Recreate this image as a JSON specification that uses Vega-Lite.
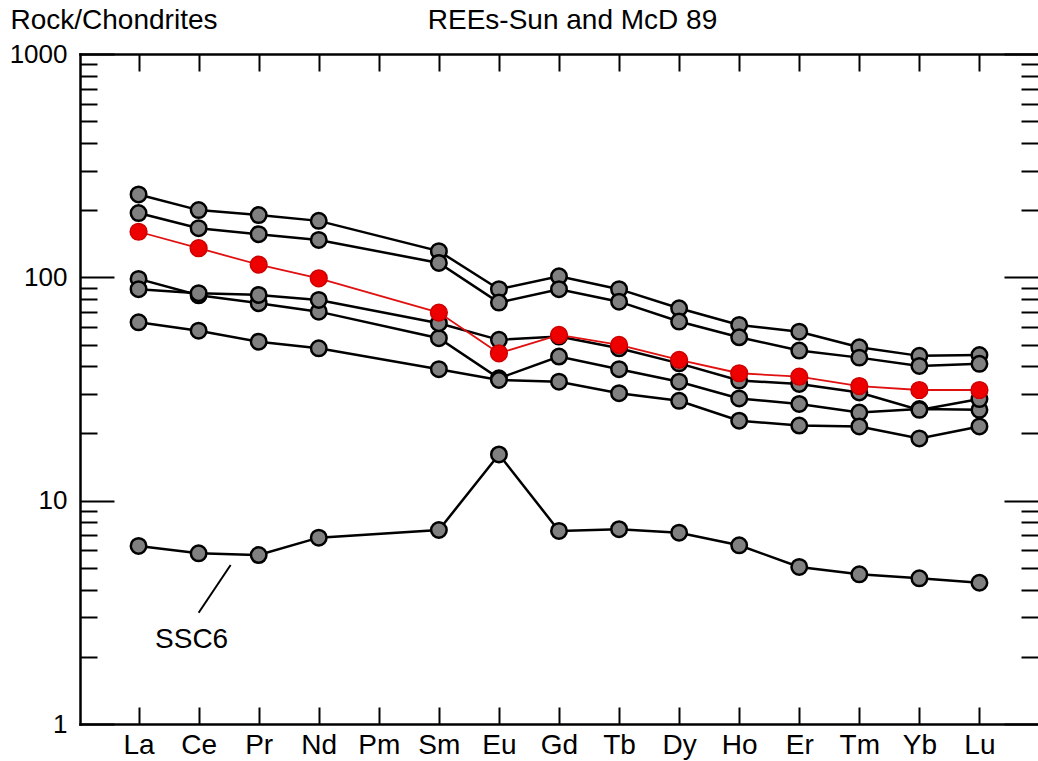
{
  "$schema": "https://vega.github.io/schema/vega-lite/v6.json",
  "width": 958,
  "height": 670,
  "autosize": {"type": "none"},
  "padding": {"left": 80, "top": 54, "right": 0, "bottom": 37},
  "background": "white",
  "config": {
    "view": {"stroke": null},
    "font": "Liberation Sans",
    "axis": {
      "grid": false,
      "domainColor": "black",
      "domainWidth": 2.5,
      "domainCap": "square",
      "tickColor": "black",
      "tickWidth": 2,
      "labelColor": "black",
      "labelFont": "Liberation Sans",
      "labelFontSize": 28,
      "titleFont": "Liberation Sans",
      "titleFontSize": 28,
      "titleFontWeight": "normal",
      "titleColor": "black"
    }
  },
  "data": {
    "values": [
      {"series": "S1", "element": "La", "value": 235},
      {"series": "S1", "element": "Ce", "value": 200},
      {"series": "S1", "element": "Pr", "value": 190},
      {"series": "S1", "element": "Nd", "value": 179},
      {"series": "S1", "element": "Sm", "value": 131},
      {"series": "S1", "element": "Eu", "value": 88.5},
      {"series": "S1", "element": "Gd", "value": 101},
      {"series": "S1", "element": "Tb", "value": 88.5},
      {"series": "S1", "element": "Dy", "value": 72.7},
      {"series": "S1", "element": "Ho", "value": 61.2},
      {"series": "S1", "element": "Er", "value": 57.1},
      {"series": "S1", "element": "Tm", "value": 48.6},
      {"series": "S1", "element": "Yb", "value": 44.5},
      {"series": "S1", "element": "Lu", "value": 44.9},
      {"series": "S2", "element": "La", "value": 194},
      {"series": "S2", "element": "Ce", "value": 166},
      {"series": "S2", "element": "Pr", "value": 156},
      {"series": "S2", "element": "Nd", "value": 147},
      {"series": "S2", "element": "Sm", "value": 116},
      {"series": "S2", "element": "Eu", "value": 77.1},
      {"series": "S2", "element": "Gd", "value": 88.5},
      {"series": "S2", "element": "Tb", "value": 77.8},
      {"series": "S2", "element": "Dy", "value": 63.4},
      {"series": "S2", "element": "Ho", "value": 53.9},
      {"series": "S2", "element": "Er", "value": 47.0},
      {"series": "S2", "element": "Tm", "value": 43.7},
      {"series": "S2", "element": "Yb", "value": 40.1},
      {"series": "S2", "element": "Lu", "value": 41.0},
      {"series": "S3", "element": "La", "value": 98.4},
      {"series": "S3", "element": "Ce", "value": 83.1},
      {"series": "S3", "element": "Pr", "value": 76.6},
      {"series": "S3", "element": "Nd", "value": 70.2},
      {"series": "S3", "element": "Sm", "value": 53.4},
      {"series": "S3", "element": "Eu", "value": 35.3},
      {"series": "S3", "element": "Gd", "value": 44.2},
      {"series": "S3", "element": "Tb", "value": 38.8},
      {"series": "S3", "element": "Dy", "value": 34.1},
      {"series": "S3", "element": "Ho", "value": 28.7},
      {"series": "S3", "element": "Er", "value": 27.1},
      {"series": "S3", "element": "Tm", "value": 24.8},
      {"series": "S3", "element": "Yb", "value": 25.7},
      {"series": "S3", "element": "Lu", "value": 25.5},
      {"series": "S4", "element": "La", "value": 88.5},
      {"series": "S4", "element": "Ce", "value": 84.9},
      {"series": "S4", "element": "Pr", "value": 83.4},
      {"series": "S4", "element": "Nd", "value": 79.2},
      {"series": "S4", "element": "Sm", "value": 62.3},
      {"series": "S4", "element": "Eu", "value": 52.5},
      {"series": "S4", "element": "Gd", "value": 54.3},
      {"series": "S4", "element": "Tb", "value": 48.1},
      {"series": "S4", "element": "Dy", "value": 41.2},
      {"series": "S4", "element": "Ho", "value": 34.5},
      {"series": "S4", "element": "Er", "value": 33.3},
      {"series": "S4", "element": "Tm", "value": 30.5},
      {"series": "S4", "element": "Yb", "value": 25.5},
      {"series": "S4", "element": "Lu", "value": 28.5},
      {"series": "S5", "element": "La", "value": 62.9},
      {"series": "S5", "element": "Ce", "value": 57.7},
      {"series": "S5", "element": "Pr", "value": 51.5},
      {"series": "S5", "element": "Nd", "value": 48.1},
      {"series": "S5", "element": "Sm", "value": 38.8},
      {"series": "S5", "element": "Eu", "value": 34.7},
      {"series": "S5", "element": "Gd", "value": 34.1},
      {"series": "S5", "element": "Tb", "value": 30.3},
      {"series": "S5", "element": "Dy", "value": 28.0},
      {"series": "S5", "element": "Ho", "value": 22.8},
      {"series": "S5", "element": "Er", "value": 21.7},
      {"series": "S5", "element": "Tm", "value": 21.5},
      {"series": "S5", "element": "Yb", "value": 19.0},
      {"series": "S5", "element": "Lu", "value": 21.5},
      {"series": "SSC6", "element": "La", "value": 6.27},
      {"series": "SSC6", "element": "Ce", "value": 5.81},
      {"series": "SSC6", "element": "Pr", "value": 5.71},
      {"series": "SSC6", "element": "Nd", "value": 6.83},
      {"series": "SSC6", "element": "Sm", "value": 7.39},
      {"series": "SSC6", "element": "Eu", "value": 16.1},
      {"series": "SSC6", "element": "Gd", "value": 7.32},
      {"series": "SSC6", "element": "Tb", "value": 7.45},
      {"series": "SSC6", "element": "Dy", "value": 7.19},
      {"series": "SSC6", "element": "Ho", "value": 6.31},
      {"series": "SSC6", "element": "Er", "value": 5.05},
      {"series": "SSC6", "element": "Tm", "value": 4.68},
      {"series": "SSC6", "element": "Yb", "value": 4.49},
      {"series": "SSC6", "element": "Lu", "value": 4.29},
      {"series": "Red", "element": "La", "value": 160},
      {"series": "Red", "element": "Ce", "value": 135},
      {"series": "Red", "element": "Pr", "value": 114},
      {"series": "Red", "element": "Nd", "value": 99},
      {"series": "Red", "element": "Sm", "value": 69.5},
      {"series": "Red", "element": "Eu", "value": 45.7},
      {"series": "Red", "element": "Gd", "value": 55.2},
      {"series": "Red", "element": "Tb", "value": 49.8},
      {"series": "Red", "element": "Dy", "value": 42.7},
      {"series": "Red", "element": "Ho", "value": 37.2},
      {"series": "Red", "element": "Er", "value": 35.9},
      {"series": "Red", "element": "Tm", "value": 32.6},
      {"series": "Red", "element": "Yb", "value": 31.3},
      {"series": "Red", "element": "Lu", "value": 31.3}
    ]
  },
  "layer": [
    {
      "transform": [{"filter": "datum.series != 'Red'"}],
      "mark": {"type": "line", "color": "black", "strokeWidth": 2.5},
      "encoding": {
        "x": {
          "field": "element", "type": "ordinal",
          "scale": {"type": "point", "padding": 0.975, "domain": ["La","Ce","Pr","Nd","Pm","Sm","Eu","Gd","Tb","Dy","Ho","Er","Tm","Yb","Lu"]},
          "axis": {"orient": "bottom", "title": null, "domain": true, "ticks": true, "tickSize": -17, "labelPadding": 24, "labelAngle": 0, "labelBaseline": "top"}
        },
        "y": {
          "field": "value", "type": "quantitative",
          "scale": {"type": "log", "domain": [1, 1000], "nice": false},
          "axis": {"orient": "left", "values": [1, 10, 100, 1000], "format": "d", "tickSize": -34, "labelPadding": 47, "labelFontSize": 26, "domain": true,
                   "title": "Rock/Chondrites", "titleAngle": 0, "titleX": -70, "titleY": -26, "titleAlign": "left", "titleBaseline": "alphabetic"}
        },
        "detail": {"field": "series"},
        "order": {"value": null}
      }
    },
    {
      "transform": [{"filter": "datum.series != 'Red'"}],
      "mark": {"type": "point", "shape": "circle", "filled": true, "fill": "#808080", "stroke": "black", "strokeWidth": 2.5, "size": 240, "opacity": 1},
      "encoding": {
        "x": {
          "field": "element", "type": "ordinal",
          "scale": {"type": "point", "padding": 0.975, "domain": ["La","Ce","Pr","Nd","Pm","Sm","Eu","Gd","Tb","Dy","Ho","Er","Tm","Yb","Lu"]},
          "axis": {"orient": "top", "labels": false, "domain": true, "ticks": true, "tickSize": -17,
                   "title": "REEs-Sun and McD 89", "titleAngle": 0, "titleX": 492, "titleY": -26, "titleAlign": "center", "titleBaseline": "alphabetic"}
        },
        "y": {
          "field": "value", "type": "quantitative",
          "scale": {"type": "log", "domain": [1, 1000], "nice": false},
          "axis": {"orient": "left", "values": [2,3,4,5,6,7,8,9,20,30,40,50,60,70,80,90,200,300,400,500,600,700,800,900], "labels": false, "domain": false, "tickSize": -17, "title": null}
        }
      }
    },
    {
      "transform": [{"filter": "datum.series == 'Red'"}],
      "mark": {"type": "line", "color": "#e01010", "strokeWidth": 1.8},
      "encoding": {
        "x": {
          "field": "element", "type": "ordinal",
          "scale": {"type": "point", "padding": 0.975, "domain": ["La","Ce","Pr","Nd","Pm","Sm","Eu","Gd","Tb","Dy","Ho","Er","Tm","Yb","Lu"]},
          "axis": null
        },
        "y": {
          "field": "value", "type": "quantitative",
          "scale": {"type": "log", "domain": [1, 1000], "nice": false},
          "axis": {"orient": "right", "values": [1, 10, 100, 1000], "labels": false, "domain": false, "tickSize": -34, "title": null}
        },
        "order": {"value": null}
      }
    },
    {
      "transform": [{"filter": "datum.series == 'Red'"}],
      "mark": {"type": "point", "shape": "circle", "filled": true, "fill": "#ee0000", "stroke": "#cc0000", "strokeWidth": 1.5, "size": 280, "opacity": 1},
      "encoding": {
        "x": {
          "field": "element", "type": "ordinal",
          "scale": {"type": "point", "padding": 0.975, "domain": ["La","Ce","Pr","Nd","Pm","Sm","Eu","Gd","Tb","Dy","Ho","Er","Tm","Yb","Lu"]},
          "axis": null
        },
        "y": {
          "field": "value", "type": "quantitative",
          "scale": {"type": "log", "domain": [1, 1000], "nice": false},
          "axis": {"orient": "right", "values": [2,3,4,5,6,7,8,9,20,30,40,50,60,70,80,90,200,300,400,500,600,700,800,900], "labels": false, "domain": false, "tickSize": -17, "title": null}
        }
      }
    },
    {
      "data": {"values": [{"label": "SSC6", "element": "Ce", "value": 2.38}]},
      "mark": {"type": "text", "fontSize": 28, "font": "Liberation Sans", "dx": -7, "align": "center", "baseline": "middle", "color": "black"},
      "encoding": {
        "text": {"field": "label"},
        "x": {"field": "element", "type": "ordinal", "scale": {"type": "point", "padding": 0.975, "domain": ["La","Ce","Pr","Nd","Pm","Sm","Eu","Gd","Tb","Dy","Ho","Er","Tm","Yb","Lu"]}, "axis": null},
        "y": {"field": "value", "type": "quantitative", "scale": {"type": "log", "domain": [1, 1000], "nice": false}, "axis": null}
      }
    },
    {
      "data": {"values": [{"element": "Ce", "from": 3.15, "to": 5.15}]},
      "mark": {"type": "rule", "color": "black", "strokeWidth": 2, "x2Offset": 32},
      "encoding": {
        "x": {"field": "element", "type": "ordinal", "scale": {"type": "point", "padding": 0.975, "domain": ["La","Ce","Pr","Nd","Pm","Sm","Eu","Gd","Tb","Dy","Ho","Er","Tm","Yb","Lu"]}, "axis": null},
        "x2": {"field": "element"},
        "y": {"field": "from", "type": "quantitative", "scale": {"type": "log", "domain": [1, 1000], "nice": false}, "axis": null},
        "y2": {"field": "to"}
      }
    }
  ],
  "resolve": {"axis": {"x": "independent", "y": "independent"}}
}
